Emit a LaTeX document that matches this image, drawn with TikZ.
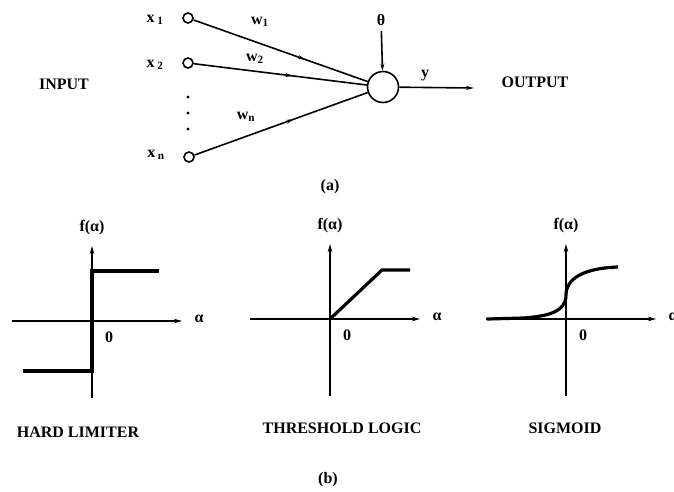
\documentclass[tikz,border=0pt]{standalone}
\usepackage{fontspec}
\setmainfont{Liberation Serif}
\usetikzlibrary{arrows.meta,decorations.markings}

\begin{document}
\begin{tikzpicture}[x=1pt, y=-1pt, font=\fontsize{16}{18}\selectfont\bfseries,
    inp/.style={draw, circle, line width=1.6pt, minimum size=10pt, inner sep=0pt},
    wire/.style={line width=1.6pt},
    midarrow/.style={postaction={decorate}, decoration={markings,
        mark=at position #1 with {\arrow{Stealth[length=7pt, width=4pt]}}}},
    axis/.style={line width=1.8pt, -{Stealth[length=8pt, width=4.5pt]}},
    curve/.style={line width=3.2pt}]
    \useasboundingbox (0,0) rectangle (674,491);

    % neuron model
    \node (input) at (64,84) {INPUT};
    \node[inp] (x1) at (188,18) {};
    \node[inp] (x2) at (188,63) {};
    \node[inp] (xn) at (189,157) {};
    \node (lx1) at (155,20) {x\,\textsubscript{1}};
    \node (lx2) at (155,65) {x\,\textsubscript{2}};
    \node (lxn) at (156,155) {x\,\textsubscript{n}};
    \foreach \y in {97,113,129}
        \fill (188,\y) circle (1.6pt);

    \node[draw, circle, line width=1.6pt, minimum size=31pt, inner sep=0pt] (sum) at (383,87) {};
    \node (theta) at (381,20) {θ};
    \draw[wire, -{Stealth[length=7pt, width=4pt]}, shorten <=2pt] (theta) -- (sum);

    \draw[wire, midarrow=0.64] (x1) -- (sum);
    \draw[wire, midarrow=0.57] (x2) -- (sum);
    \draw[wire, midarrow=0.57] (xn) -- (sum);
    \node (w1) at (260,22) {w\textsubscript{1}};
    \node (w2) at (255,59) {w\textsubscript{2}};
    \node (wn) at (246,117) {w\textsubscript{n}};

    \coordinate (out) at (474,88);
    \draw[wire, -{Stealth[length=8pt, width=4pt]}] (sum) -- (out);
    \node (y) at (425,76) {y};
    \node (output) at (535,82) {OUTPUT};
    \node (a) at (330,187) {(a)};

    % activation functions
    \foreach \ox/\oy [count=\i] in {92/321, 330/319, 566/319} {
        \draw[axis] (\ox-80,\oy) -- (\ox+90,\oy);
        \draw[axis] (\ox,\oy+77) -- (\ox,\oy-75);
        \node (f\i) at (\ox,\oy-93) {f(α)};
        \node (al\i) at (\ox+107,\oy-2) {α};
        \node (z\i) at (\ox+17,\oy+16) {0};
    }
    \draw[curve] (23,371) -- (92,371) -- (92,271) -- (159,271);
    \draw[curve] (330,319) -- (382,270) -- (410,270);
    \draw[curve] (487,319) -- (524,318) .. controls (548,316) and (566,312) .. (566,295)
        .. controls (566,278) and (585,268) .. (618,267);

    \node (hl) at (78,432) {HARD LIMITER};
    \node (tl) at (342,428) {THRESHOLD LOGIC};
    \node (sg) at (565,428) {SIGMOID};
    \node (b) at (328,480) {(b)};
\end{tikzpicture}
\end{document}
